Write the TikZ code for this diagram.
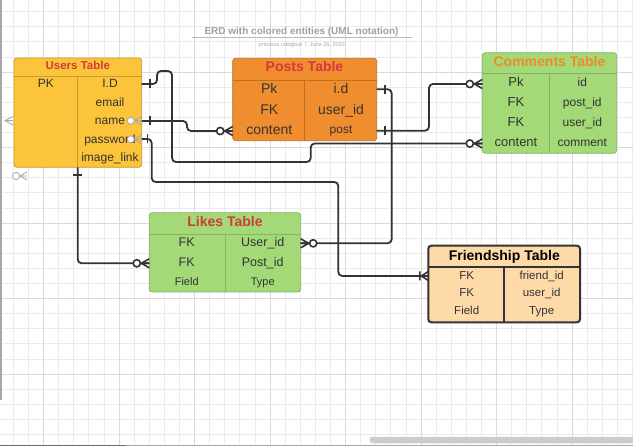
\documentclass[tikz,border=0pt]{standalone}
\usepackage{fontspec}
\setmainfont{Liberation Sans}
\usetikzlibrary{calc}

\definecolor{gridminor}{HTML}{EBEBEB}
\definecolor{gridmajor}{HTML}{DADADA}
\definecolor{ink}{HTML}{333333}
\definecolor{hdred}{HTML}{D13B3B}
\definecolor{hdorange}{HTML}{F0892E}
\definecolor{titlegray}{HTML}{9CA0A8}
\definecolor{subgray}{HTML}{A8A8A8}
\definecolor{usersfill}{HTML}{FBC43A}
\definecolor{usersline}{HTML}{C99A2E}
\definecolor{postsfill}{HTML}{F08E2F}
\definecolor{postsline}{HTML}{BF6E22}
\definecolor{greenfill}{HTML}{A3D977}
\definecolor{greenline}{HTML}{86B463}
\definecolor{friendfill}{HTML}{FFDAA9}
\definecolor{strayline}{HTML}{ABABAB}

\newcommand\erdfs[1]{\fontsize{#1}{#1}\selectfont}

% zero-or-many marker at an entity edge; #2 = 1 when the line leaves to the right, -1 to the left
\newcommand\zeroMany[2]{%
  \begin{scope}[shift={(#1)},xscale=#2]
    \draw[markline] (0,-4.5) -- (8,0) -- (0,4.5) (0,0) -- (8,0);
    \draw[markline,fill=white] (12.5,0) circle[radius=3.6pt];
  \end{scope}}
% single bar ("one") across a horizontal line
\newcommand\oneBar[2]{%
  \begin{scope}[shift={(#1)},xscale=#2]
    \draw[markline] (8,-4.5) -- (8,4.5);
  \end{scope}}

\tikzset{
  tablebox/.style={rounded corners=3pt, line width=0.8pt, inner sep=0pt, outer sep=0pt, anchor=north west},
  cell/.style={anchor=base, inner sep=0pt, text=ink},
  link/.style={draw=ink, line width=1.8pt, rounded corners=4pt},
  markline/.style={draw=ink, line width=1.6pt},
  strayline/.style={draw=strayline, line width=0.9pt},
  divider/.style={line width=0.8pt}
}

\begin{document}
\begin{tikzpicture}[x=1pt,y=-1pt]
\useasboundingbox (0,0) rectangle (633,446);
\fill[white] (0,0) rectangle (633,446);

% background grid
\foreach \i in {0,...,41} \draw[gridminor,line width=0.8pt] ({13.3+15.1*\i},0) -- ({13.3+15.1*\i},446);
\foreach \j in {0,...,28} \draw[gridminor,line width=0.8pt] (0,{11.7+15.1*\j}) -- (633,{11.7+15.1*\j});
\foreach \i in {0,...,7} \draw[gridmajor,line width=0.8pt] ({43.5+75.5*\i},0) -- ({43.5+75.5*\i},446);
\foreach \j in {0,...,4} \draw[gridmajor,line width=0.8pt] (0,{72.1+75.5*\j}) -- (633,{72.1+75.5*\j});

% window edges and scrollbar
\draw[color=gray!70,line width=1.5pt] (1,0) -- (1,400);
\draw[color=gray!85!black,line width=1pt] (0,445.5) -- (126,445.5);
\draw[color=gray!70,line width=1pt] (126,445.5) -- (633,445.5);
\fill[color=black!20, rounded corners=3pt] (369.5,436.8) rectangle (640,443.3);

% title block
\node[anchor=base, inner sep=0pt, text=titlegray, font=\erdfs{10}\bfseries] (title) at (301.5,34.3) {ERD with colored entities (UML notation)};
\draw[color=black!28,line width=0.8pt] (192,37) -- (412,37);
\node[anchor=base, inner sep=0pt, text=subgray, font=\erdfs{5.5}] (byline) at (301.7,46.2) {precious udegbue\ \ |\ \ June 26, 2020};

% ---------- Users Table ----------
\node[tablebox, draw=usersline, fill=usersfill, minimum width=127.7pt, minimum height=109.3pt] (users) at (14,58) {};
\draw[usersline,divider] (14,76) -- (141.7,76) (77.7,76) -- (77.7,167.3);
\node[cell,text=hdred,font=\erdfs{11.5}\bfseries] (users-h) at (77.8,69.8) {Users Table};
\node[cell,font=\erdfs{12}] (users-k1) at (45.9,87.8) {PK};
\node[cell,font=\erdfs{12}] (users-a1) at (110,87.8) {I.D};
\node[cell,font=\erdfs{12}] (users-a2) at (110,106.5) {email};
\node[cell,font=\erdfs{12}] (users-a3) at (110,125) {name};
\node[cell,font=\erdfs{12}] (users-a4) at (110,143.6) {password};
\node[cell,font=\erdfs{12}] (users-a5) at (110,161.8) {image\_link};

% ---------- Posts Table ----------
\node[tablebox, draw=postsline, fill=postsfill, minimum width=144pt, minimum height=82.4pt] (posts) at (232.7,58.3) {};
\draw[postsline,divider] (232.7,80) -- (376.7,80) (304.3,80) -- (304.3,140.7);
\node[cell,text=hdred,font=\erdfs{14}\bfseries] (posts-h) at (304.5,71.7) {Posts Table};
\node[cell,font=\erdfs{14}] (posts-k1) at (269.3,93.3) {Pk};
\node[cell,font=\erdfs{14}] (posts-k2) at (269.3,114.3) {FK};
\node[cell,font=\erdfs{14}] (posts-k3) at (269.3,134.3) {content};
\node[cell,font=\erdfs{14}] (posts-a1) at (341,93.3) {i.d};
\node[cell,font=\erdfs{14}] (posts-a2) at (341,114.3) {user\_id};
\node[cell,font=\erdfs{12}] (posts-a3) at (341,134) {post};

% ---------- Comments Table ----------
\node[tablebox, draw=greenline, fill=greenfill, minimum width=134.4pt, minimum height=100.6pt] (comments) at (482.3,52.7) {};
\draw[greenline,divider] (482.3,73.3) -- (616.7,73.3) (549.3,73.3) -- (549.3,153.3);
\node[cell,text=hdorange,font=\erdfs{14}\bfseries] (comments-h) at (549.5,66.7) {Comments Table};
\node[cell,font=\erdfs{13}] (comments-k1) at (516,86.8) {Pk};
\node[cell,font=\erdfs{13}] (comments-k2) at (516,106.8) {FK};
\node[cell,font=\erdfs{13}] (comments-k3) at (516,126.2) {FK};
\node[cell,font=\erdfs{13}] (comments-k4) at (516,146.2) {content};
\node[cell,font=\erdfs{12}] (comments-a1) at (582.3,86.8) {id};
\node[cell,font=\erdfs{12}] (comments-a2) at (582.3,106.8) {post\_id};
\node[cell,font=\erdfs{12}] (comments-a3) at (582.3,126.2) {user\_id};
\node[cell,font=\erdfs{12}] (comments-a4) at (582.3,146.2) {comment};

% ---------- Likes Table ----------
\node[tablebox, draw=greenline, fill=greenfill, minimum width=151.4pt, minimum height=79.3pt] (likes) at (149.3,212.7) {};
\draw[greenline,divider] (149.3,234) -- (300.7,234) (225,234) -- (225,292);
\node[cell,text=hdred,font=\erdfs{14}\bfseries] (likes-h) at (225,226.5) {Likes Table};
\node[cell,font=\erdfs{12.5}] (likes-k1) at (186.7,246.2) {FK};
\node[cell,font=\erdfs{12.5}] (likes-k2) at (186.7,266.2) {FK};
\node[cell,font=\erdfs{11}] (likes-k3) at (186.7,285.2) {Field};
\node[cell,font=\erdfs{12.5}] (likes-a1) at (262.7,246.2) {User\_id};
\node[cell,font=\erdfs{12.5}] (likes-a2) at (262.7,266.2) {Post\_id};
\node[cell,font=\erdfs{11}] (likes-a3) at (262.7,285.2) {Type};

% ---------- Friendship Table ----------
\node[tablebox, draw=ink, line width=2pt, fill=friendfill, minimum width=151.7pt, minimum height=76.6pt] (friends) at (428.3,245.7) {};
\draw[ink,line width=2pt] (428.3,267.3) -- (580,267.3) (504.3,267.3) -- (504.3,322.3);
\node[cell,text=black,font=\erdfs{14}\bfseries] (friends-h) at (504.3,260.5) {Friendship Table};
\node[cell,font=\erdfs{11.5}] (friends-k1) at (466.7,279.1) {FK};
\node[cell,font=\erdfs{11.5}] (friends-k2) at (466.7,296.8) {FK};
\node[cell,font=\erdfs{11.5}] (friends-k3) at (466.7,314.1) {Field};
\node[cell,font=\erdfs{11.5}] (friends-a1) at (541.7,279.1) {friend\_id};
\node[cell,font=\erdfs{11.5}] (friends-a2) at (541.7,296.8) {user\_id};
\node[cell,font=\erdfs{11.5}] (friends-a3) at (541.7,314.1) {Type};

% ---------- connector end points ----------
\coordinate (u-id)    at (141.7,84);
\coordinate (u-name)  at (141.7,121);
\coordinate (u-pass)  at (141.7,139);
\coordinate (u-bot)   at (77.7,167.3);
\coordinate (p-id)    at (376.7,89.3);
\coordinate (p-post)  at (376.7,130.7);
\coordinate (p-cont)  at (232.7,131);
\coordinate (c-pk)    at (482.3,84);
\coordinate (c-cont)  at (482.3,143.5);
\coordinate (l-user)  at (300.7,243.3);
\coordinate (l-post)  at (149.3,263.3);
\coordinate (f-fk)    at (428.3,276);

% ---------- relationships ----------
\draw[link] (u-id) -- (157,84) -- (157,71) -- (172,71) -- (172,162) -- (310.7,162) -- (310.7,143.5) -- (c-cont);
\draw[link] (u-name) -- (187,121) -- (187,131) -- (p-cont);
\draw[link] (u-pass) -- (151.7,139) -- (151.7,182) -- (338.3,182) -- (338.3,276) -- (f-fk);
\draw[link] (u-bot) -- (77.7,263.3) -- (l-post);
\draw[link] (p-id) -- (391.7,89.3) -- (391.7,243.3) -- (l-user);
\draw[link] (p-post) -- (429,130.7) -- (429,84) -- (c-pk);

% cardinality markers
\oneBar{u-id}{1}
\oneBar{u-name}{1}
\oneBar{u-pass}{0.7}
\draw[markline] ($(u-bot)+(-4.5,8)$) -- ($(u-bot)+(4.5,8)$);
\oneBar{p-id}{1}
\oneBar{p-post}{1}
\zeroMany{p-cont}{-1}
\zeroMany{c-pk}{-1}
\zeroMany{c-cont}{-1}
\zeroMany{l-user}{1}
\zeroMany{l-post}{-1}
\begin{scope}[shift={(f-fk)}]
  \draw[markline] (0,-4.5) -- (-7,0) -- (0,4.5) (-8.5,-4.5) -- (-8.5,4.5);
\end{scope}

% loose markers left on the Users table
\foreach \yy in {120.7,139.3} {
  \draw[strayline] (141.7,\yy-4.5) -- (134.5,\yy) -- (141.7,\yy+4.5) (134.5,\yy) -- (141.7,\yy);
  \draw[strayline,fill=white] (130.7,\yy) circle[radius=3.5pt];
}
\draw[strayline] (13,116.5) -- (5,120.7) -- (13,125) (5,120.7) -- (13,120.7);
\draw[strayline] (27,172) -- (20,176) -- (27,180) (20,176) -- (27,176);
\draw[strayline,fill=white] (16,176) circle[radius=3.6pt];
\end{tikzpicture}
\end{document}
